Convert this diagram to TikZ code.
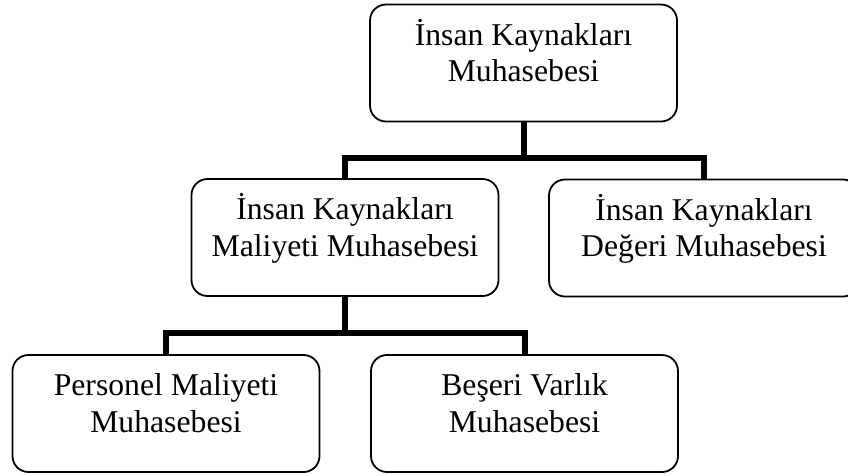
\documentclass[tikz,border=0pt]{standalone}
\usepackage{fontspec}
\setmainfont{Liberation Serif}
\usetikzlibrary{calc}
\begin{document}
\begin{tikzpicture}[x=1pt,y=-1pt,
  box/.style={draw=black, line width=1.8pt, rounded corners=16pt,
    minimum width=307pt, minimum height=117pt, inner sep=0pt},
  lbl/.style={anchor=base, align=center, inner sep=0pt,
    font=\fontsize{31.7}{36.5}\selectfont},
  link/.style={line width=6pt, line join=miter}]
\useasboundingbox (0,0) rectangle (848,475);

% boxes
\node[box] (top) at (523.5,63) {};
\node[box] (ml)  at (345,237.5) {};
\node[box, minimum width=310pt] (mr) at (704,238) {};
\node[box] (bl)  at (166,413.5) {};
\node[box] (br)  at (524.5,413.5) {};

% labels: the base anchor sits on the last line, 78pt below each box top
\node[lbl] (topT) at ($(top.north)+(0,78)$) {İnsan Kaynakları\\Muhasebesi};
\node[lbl] (mlT)  at ($(ml.north)+(0,78)$)  {İnsan Kaynakları\\Maliyeti Muhasebesi};
\node[lbl] (mrT)  at ($(mr.north)+(0,78)$)  {İnsan Kaynakları\\Değeri Muhasebesi};
\node[lbl] (blT)  at ($(bl.north)+(0,78)$)  {Personel Maliyeti\\Muhasebesi};
\node[lbl] (brT)  at ($(br.north)+(0,78)$)  {Beşeri Varlık\\Muhasebesi};

% tree connectors
\coordinate (j1) at (523.5,157.5);
\coordinate (j2) at (345,333);
\draw[link] (top.south) -- (j1);
\draw[link] (ml.north) |- (j1) -| (mr.north);
\draw[link] (ml.south) -- (j2);
\draw[link] (bl.north) |- (j2) -| (br.north);
\end{tikzpicture}
\end{document}
